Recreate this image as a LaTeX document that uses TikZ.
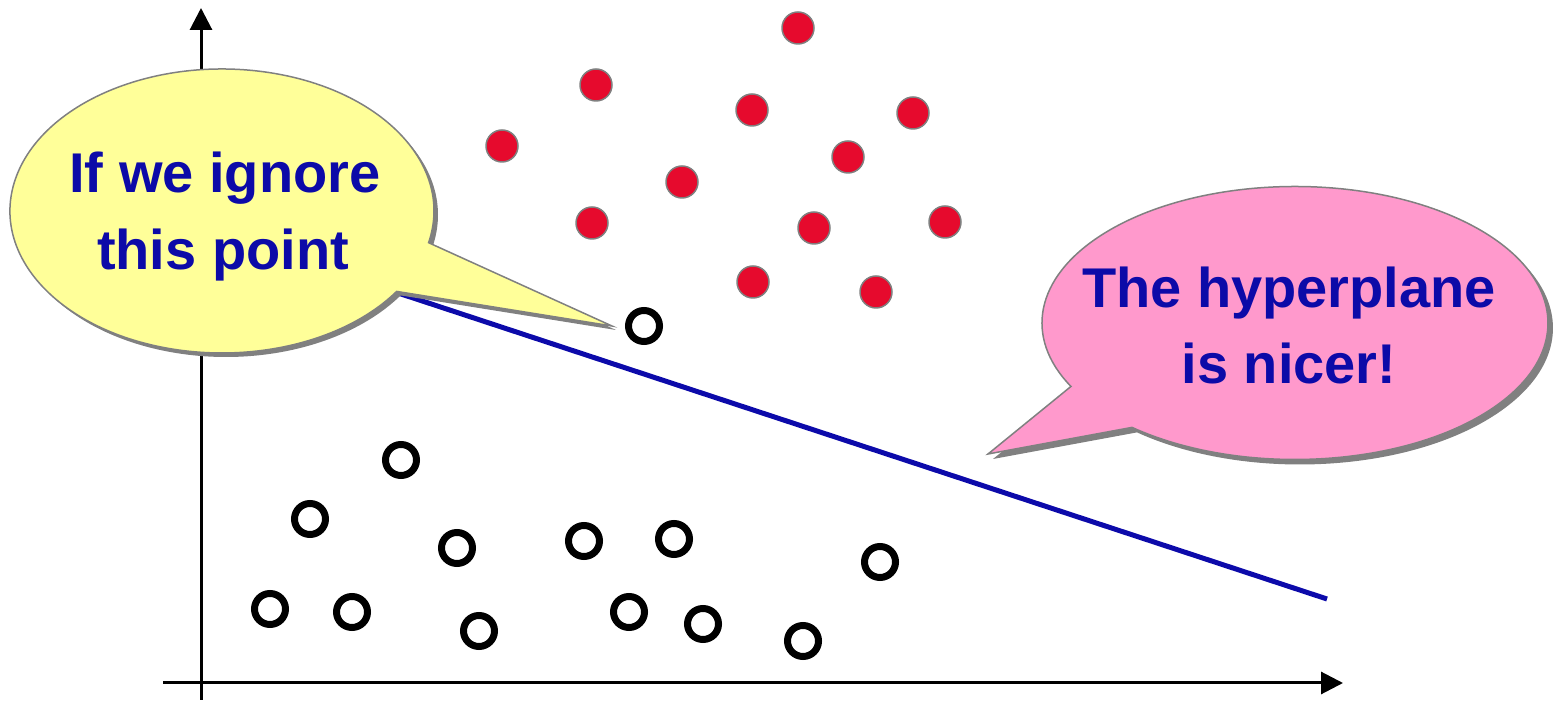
\documentclass[tikz,border=0pt]{standalone}
\usepackage{fontspec}
\setmainfont{Liberation Sans}
\usetikzlibrary{arrows.meta}
\definecolor{txtblue}{RGB}{12,10,168}
\definecolor{lineblue}{RGB}{12,10,170}
\definecolor{dotred}{RGB}{230,10,45}
\definecolor{edgegray}{RGB}{128,128,128}
\definecolor{bubyellow}{RGB}{255,255,153}
\definecolor{bubpink}{RGB}{255,153,204}
\tikzset{
  axisline/.style={line width=3pt, black, -{Triangle[length=22pt,width=22pt]}},
  reddot/.style={circle, inner sep=0pt, minimum size=32pt, fill=dotred, draw=edgegray, line width=1.5pt},
  ringdot/.style={circle, inner sep=0pt, minimum size=31pt, draw=black, line width=7pt},
  hyper/.style={line width=5pt, lineblue},
  bubbleedge/.style={draw=edgegray, line width=1.5pt},
  bubbleshadow/.style={fill=edgegray},
  bubbletext/.style={font=\fontsize{56}{60}\selectfont\bfseries, text=txtblue, inner sep=0pt, anchor=base}
}
\begin{document}
\begin{tikzpicture}[x=1pt,y=1pt]
\useasboundingbox (0,0) rectangle (1558,701);
% axes
\coordinate (ybot) at (201,1);
\coordinate (ytop) at (201,693);
\coordinate (xleft) at (163,18);
\coordinate (xright) at (1343,18);
\draw[axisline] (ybot) -- (ytop);
\draw[axisline] (xleft) -- (xright);
% hyperplane
\coordinate (hA) at (398,408);
\coordinate (hB) at (1327,102);
\draw[hyper] (hA) -- (hB);
% yellow bubble
\begin{scope}[shift={(4,-4)}]
\fill[bubbleshadow] (428.6,458.3) arc[start angle=-12.9, end angle=325.5, x radius=212, y radius=142] -- (612,375) -- cycle;
\end{scope}
\filldraw[fill=bubyellow, bubbleedge] (428.6,458.3) arc[start angle=-12.9, end angle=325.5, x radius=212, y radius=142] -- (612,375) -- cycle;
\node[bubbletext] (ya) at (225,508) {If we ignore};
\node[bubbletext] (yb) at (223,431) {this point};
% pink bubble
\begin{scope}[shift={(5,-5)}]
\fill[bubbleshadow] (1132.0,273.6) arc[start angle=229.9, end angle=567.7, x radius=253, y radius=136.5] -- (988,247) -- cycle;
\end{scope}
\filldraw[fill=bubpink, bubbleedge] (1132.0,273.6) arc[start angle=229.9, end angle=567.7, x radius=253, y radius=136.5] -- (988,247) -- cycle;
\node[bubbletext] (pa) at (1289,393) {The hyperplane};
\node[bubbletext] (pb) at (1289,317) {is nicer!};
% red points
\foreach \px/\py [count=\i] in {798/673,596/616,752/591,913/588,502/555,848/544,682/519,592/478,814/473,945/479,753/419,876/409}
  \node[reddot] (r\i) at (\px,\py) {};
% open points
\foreach \px/\py [count=\i] in {644/375,401/241,310/182,457/153,584/160,674/162,880/139,270/92,352/89,479/70,629/89,703/77,803/60}
  \node[ringdot] (w\i) at (\px,\py) {};
\end{tikzpicture}
\end{document}
